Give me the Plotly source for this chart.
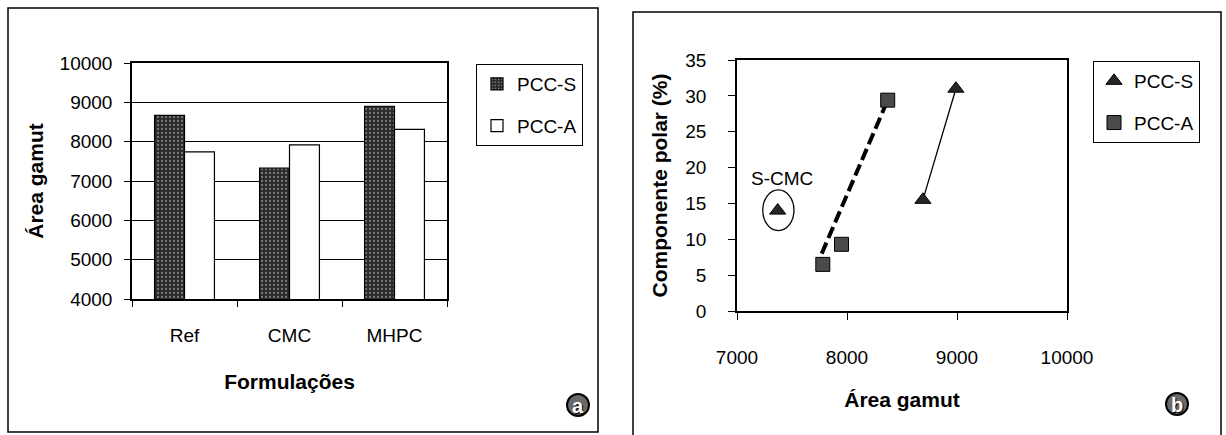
import plotly.graph_objects as go

# ---------------- data ----------------
formulations = ["Ref", "CMC", "MHPC"]
gamut_pcc_s = [8670, 7330, 8900]
gamut_pcc_a = [7740, 7920, 8310]

# panel b
scatter_s_x = [7370, 8690, 8990]
scatter_s_y = [14.0, 15.5, 31.0]
scatter_a_x = [7780, 7950, 8370]
scatter_a_y = [6.5, 9.3, 29.4]
trend_s_x = [8690, 8990]
trend_s_y = [15.5, 31.0]
trend_a_x = [7770, 8370]
trend_a_y = [8.0, 29.4]

y_ticks_a = [4000, 5000, 6000, 7000, 8000, 9000, 10000]
x_ticks_b = [7000, 8000, 9000, 10000]
y_ticks_b = [0, 5, 10, 15, 20, 25, 30, 35]

W, H = 1226, 435
FONT = "Liberation Sans, Arial, sans-serif"


def px(x):
    return x / W


def py(y):
    return 1 - y / H


fig = go.Figure()

# ---------------- panel a: bars ----------------
fig.add_trace(go.Bar(
    x=formulations, y=gamut_pcc_s, name="PCC-S",
    marker=dict(color="#2e2e2e", line=dict(color="black", width=1.2),
                pattern=dict(shape=".", fillmode="replace", bgcolor="#2a2a2a",
                             fgcolor="#7a7a7a", size=4, solidity=0.25)),
    xaxis="x", yaxis="y", legend="legend", legendgroup="s",
))
fig.add_trace(go.Bar(
    x=formulations, y=gamut_pcc_a, name="PCC-A",
    marker=dict(color="white", line=dict(color="black", width=1.2)),
    xaxis="x", yaxis="y", legend="legend", legendgroup="a",
))

# ---------------- panel b: scatter ----------------
fig.add_trace(go.Scatter(
    x=trend_a_x, y=trend_a_y, mode="lines", showlegend=False,
    line=dict(color="black", width=4, dash="12px,5px"),
    xaxis="x2", yaxis="y2", hoverinfo="skip",
))
fig.add_trace(go.Scatter(
    x=trend_s_x, y=trend_s_y, mode="lines", showlegend=False,
    line=dict(color="black", width=1.3),
    xaxis="x2", yaxis="y2", hoverinfo="skip",
))
fig.add_trace(go.Scatter(
    x=scatter_s_x, y=scatter_s_y, mode="markers", name="PCC-S",
    marker=dict(symbol="triangle-up", size=14, color="#262626",
                line=dict(color="black", width=1)),
    xaxis="x2", yaxis="y2", legend="legend2", legendgroup="s2",
))
fig.add_trace(go.Scatter(
    x=scatter_a_x, y=scatter_a_y, mode="markers", name="PCC-A",
    marker=dict(symbol="square", size=14, color="#4a4a4a",
                line=dict(color="black", width=1)),
    xaxis="x2", yaxis="y2", legend="legend2", legendgroup="a2",
))

tickfont = dict(family=FONT, size=19, color="black")
titlefont = dict(family=FONT, size=21, color="black", weight="bold")

fig.update_layout(
    width=W, height=H,
    margin=dict(l=0, r=0, t=0, b=0, autoexpand=False),
    paper_bgcolor="white", plot_bgcolor="white",
    font=dict(family=FONT, color="black"),
    barmode="group", bargap=0.43, bargroupgap=0.0,
    xaxis=dict(domain=[px(132), px(447)], anchor="y", automargin=False,
               showline=True, linecolor="black", linewidth=1.5, mirror=True,
               ticks="outside", ticklen=6, tickcolor="black", tickson="boundaries",
               tickfont=tickfont, ticklabelstandoff=18,
               title=dict(text="Formulações", font=titlefont, standoff=30)),
    yaxis=dict(domain=[py(299), py(63)], anchor="x", range=[4000, 10000],
               tickvals=y_ticks_a, ticktext=[str(v) for v in y_ticks_a],
               automargin=False,
               showline=True, linecolor="black", linewidth=1.5, mirror=True,
               showgrid=True, gridcolor="black", gridwidth=1,
               ticks="outside", ticklen=6, tickcolor="black",
               tickfont=tickfont, ticklabelstandoff=8,
               title=dict(text="Área gamut", font=titlefont, standoff=10)),
    xaxis2=dict(domain=[px(737), px(1067)], anchor="y2", range=[7000, 10000],
                tickvals=x_ticks_b, ticktext=[str(v) for v in x_ticks_b],
                automargin=False,
                showline=True, linecolor="black", linewidth=1.5, mirror=True,
                showgrid=False, zeroline=False,
                ticks="outside", ticklen=7, tickcolor="black",
                tickfont=tickfont, ticklabelstandoff=21,
                title=dict(text="Área gamut", font=titlefont, standoff=26)),
    yaxis2=dict(domain=[py(311), py(60)], anchor="x2", range=[0, 35],
                tickvals=y_ticks_b, ticktext=[str(v) for v in y_ticks_b],
                automargin=False,
                showline=True, linecolor="black", linewidth=1.5, mirror=True,
                showgrid=False, zeroline=False,
                ticks="outside", ticklen=7, tickcolor="black",
                tickfont=tickfont, ticklabelstandoff=18,
                title=dict(text="Componente polar (%)", font=titlefont, standoff=12)),
    legend=dict(x=px(476), y=py(64), xanchor="left", yanchor="top",
                bordercolor="black", borderwidth=1, bgcolor="white",
                font=dict(family=FONT, size=19, color="black"),
                traceorder="grouped", tracegroupgap=14),
    legend2=dict(x=px(1093), y=py(61), xanchor="left", yanchor="top",
                 bordercolor="black", borderwidth=1, bgcolor="white",
                 font=dict(family=FONT, size=19, color="black"),
                 traceorder="grouped", tracegroupgap=14),
    showlegend=True,
)

# outer panel frames
fig.add_shape(type="rect", xref="paper", yref="paper",
              x0=px(8), x1=px(598), y0=py(432), y1=py(8),
              line=dict(color="black", width=1.5), layer="below")
fig.add_shape(type="rect", xref="paper", yref="paper",
              x0=px(633), x1=px(1221), y0=py(440), y1=py(12),
              line=dict(color="black", width=1.5), layer="below")

# S-CMC annotation with hand-drawn ellipse
fig.add_shape(type="circle", xref="x2", yref="y2",
              x0=7234, x1=7518, y0=11.2, y1=16.9,
              line=dict(color="black", width=1.3))
fig.add_annotation(x=7410, y=18.5, xref="x2", yref="y2", text="S-CMC",
                   xanchor="center", yanchor="middle",
                   showarrow=False, font=dict(family=FONT, size=19, color="black"))

# panel badges
for cx, cy, letter in [(578, 405, "a"), (1177, 404, "b")]:
    fig.add_shape(type="circle", xref="paper", yref="paper", layer="below",
                  x0=px(cx - 11), x1=px(cx + 11), y0=py(cy + 11), y1=py(cy - 11),
                  fillcolor="#6a6a6a", line=dict(color="black", width=2))
    fig.add_annotation(x=px(cx), y=py(cy + 1), xref="paper", yref="paper", text=letter,
                       xanchor="center", yanchor="middle", showarrow=False,
                       font=dict(family=FONT, size=20, color="white", weight="bold",
                                 shadow="1px 1px 1px black"))

fig.write_html("out.html", config={"displayModeBar": False},
               post_script="document.body.style.margin='0px';")
